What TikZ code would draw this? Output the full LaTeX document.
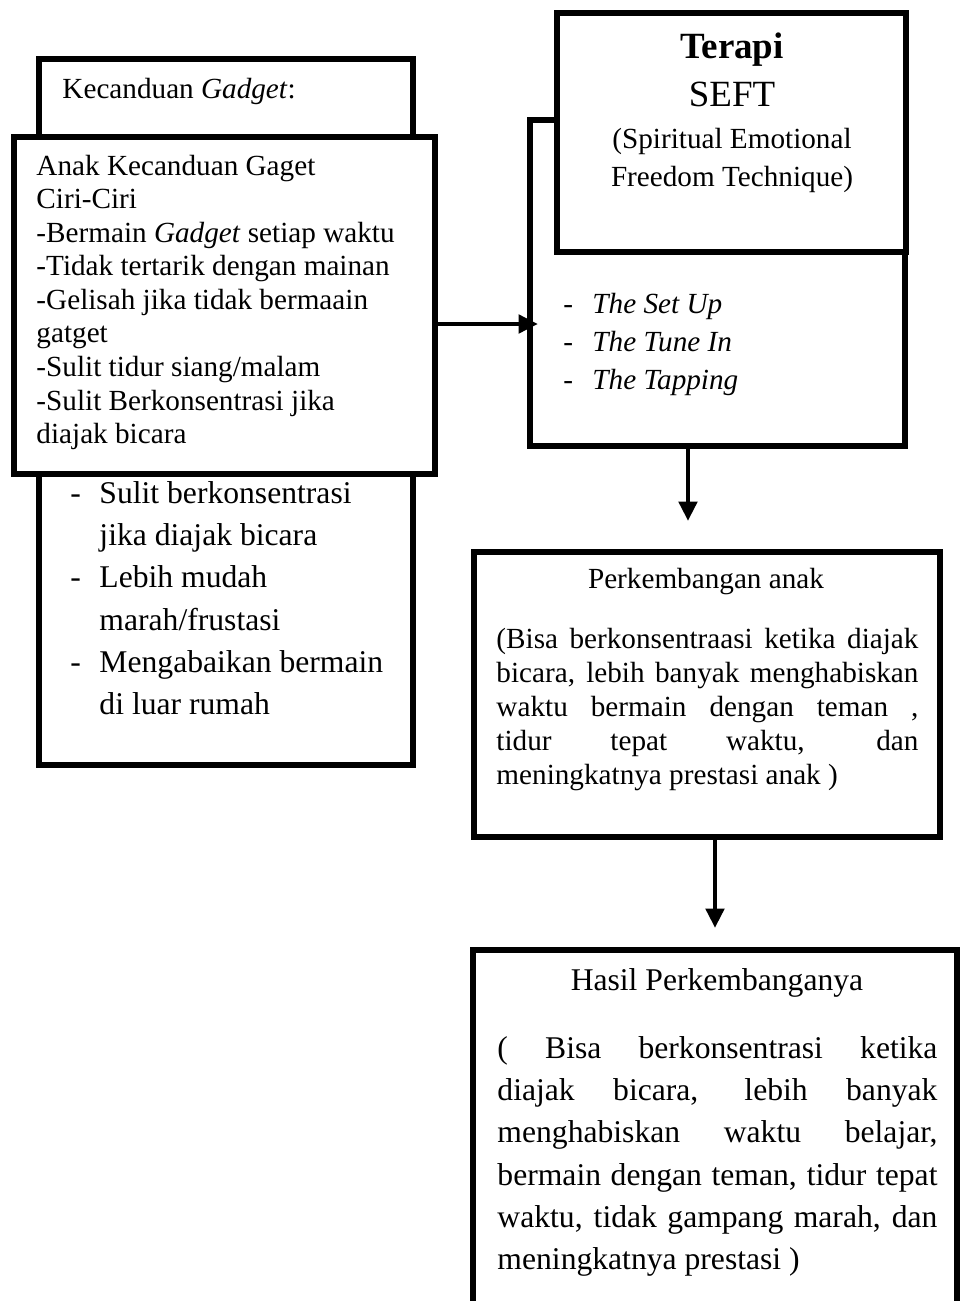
\documentclass[tikz,border=0pt]{standalone}
\usepackage{fontspec}
\setmainfont{Liberation Serif}
\usetikzlibrary{arrows.meta,positioning}
\newlength\px
\setlength\px{0.411pt}

\begin{document}
\begin{tikzpicture}[
    x=0.411pt, y=-0.411pt,
    box/.style={draw, rectangle, line width=2.3pt, inner sep=0pt},
    front/.style={box, fill=white},
    size/.style 2 args={minimum width=#1*0.411pt, minimum height=#2*0.411pt},
    txt/.style={inner sep=0pt, anchor=base west, font=\fontsize{12}{13.8}\selectfont},
    bigtxt/.style={txt, font=\fontsize{13}{17.4}\selectfont},
    arr/.style={-{Triangle[length=8pt,width=7.4pt]}, line width=2pt}
]
    \useasboundingbox (0,0) rectangle (960,1301);
    \clip (0,0) rectangle (960,1301);

    % kotak kiri
    \node[box, size={374}{706}] (kecanduan) at (226,412) {};
    \node[front, size={421}{337}] (anak) at (224.5,305.5) {};
    % kotak kanan
    \node[box, size={375}{326}] (seftbawah) at (717.5,283) {};
    \node[front, size={349}{239}] (seft) at (731.5,132.5) {};
    \node[box, size={466}{285}] (kembang) at (707,694.5) {};
    \node[box, size={484}{390}] (hasil) at (715,1145) {};

    % teks kiri
    \node[txt] (judul) at (62,98) {Kecanduan \textit{Gadget}:};
    \node[txt] (ciri) at (36,175) {\parbox[t]{395\px}{Anak Kecanduan Gaget\\
        Ciri-Ciri\\
        -Bermain \textit{Gadget} setiap waktu\\
        -Tidak tertarik dengan mainan\\
        -Gelisah jika tidak bermaain\\
        gatget\\
        -Sulit tidur siang/malam\\
        -Sulit Berkonsentrasi jika\\
        diajak bicara}};
    \node[bigtxt] (gejala) at (70,503) {\parbox[t]{330\px}{%
        \makebox[29\px][l]{-}Sulit berkonsentrasi\\
        \hspace*{29\px}jika diajak bicara\\
        \makebox[29\px][l]{-}Lebih mudah\\
        \hspace*{29\px}marah/frustasi\\
        \makebox[29\px][l]{-}Mengabaikan bermain\\
        \hspace*{29\px}di luar rumah}};

    % teks terapi
    \node[txt, anchor=base, font=\fontsize{15.2}{18}\selectfont\bfseries] (terapi) at (732,58) {Terapi};
    \node[txt, anchor=base, font=\fontsize{15.2}{18}\selectfont] (seftnama) at (732,106) {SEFT};
    \node[txt, anchor=base, font=\fontsize{12}{16}\selectfont] (seftpanjang) at (732,148)
        {\parbox[t]{320\px}{\centering (Spiritual Emotional\\ Freedom Technique)}};
    \node[txt, font=\fontsize{12}{15.8}\selectfont\itshape] (langkah) at (563,313) {\parbox[t]{300\px}{%
        \makebox[29\px][l]{\upshape -}The Set Up\\
        \makebox[29\px][l]{\upshape -}The Tune In\\
        \makebox[29\px][l]{\upshape -}The Tapping}};

    % teks perkembangan
    \node[txt, anchor=base] (kembangjudul) at (706,588) {Perkembangan anak};
    \node[txt, font=\fontsize{12}{14}\selectfont] (kembangisi) at (496,648) {\parbox[t]{422\px}{%
        \makebox[422\px][s]{(Bisa berkonsentraasi ketika diajak}\\
        \makebox[422\px][s]{bicara, lebih banyak menghabiskan}\\
        \makebox[422\px][s]{waktu bermain dengan teman ,}\\
        \makebox[422\px][s]{tidur tepat waktu, dan}\\
        meningkatnya prestasi anak )}};

    % teks hasil
    \node[bigtxt, anchor=base] (hasiljudul) at (717,990) {Hasil Perkembanganya};
    \node[bigtxt] (hasilisi) at (497,1058) {\parbox[t]{440\px}{%
        \makebox[440\px][s]{( Bisa berkonsentrasi ketika}\\
        \makebox[440\px][s]{diajak bicara, lebih banyak}\\
        \makebox[440\px][s]{menghabiskan waktu belajar,}\\
        \makebox[440\px][s]{bermain dengan teman, tidur tepat}\\
        \makebox[440\px][s]{waktu, tidak gampang marah, dan}\\
        meningkatnya prestasi )}};

    % panah
    \coordinate (ujung1) at (538,324);
    \coordinate (ujung2) at (688,521);
    \coordinate (ujung3) at (715,928);
    \draw[arr] (anak.east |- ujung1) -- (ujung1);
    \draw[arr] (seftbawah.south -| ujung2) -- (ujung2);
    \draw[arr] (kembang.south -| ujung3) -- (ujung3);
\end{tikzpicture}
\end{document}
